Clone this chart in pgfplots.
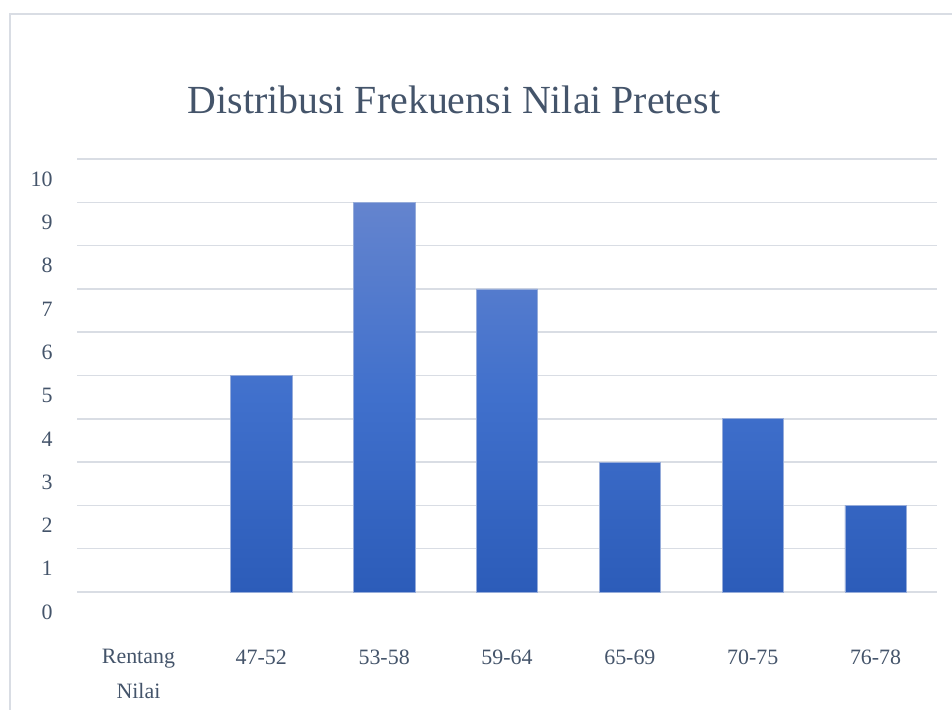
\documentclass[border=0pt]{standalone}
\usepackage{pgfplots}
\pgfplotsset{compat=1.18}
\usepackage{fontspec}
\setmainfont{Liberation Serif}
\definecolor{txt}{RGB}{68,84,106}
\definecolor{gridc}{RGB}{217,221,228}
\definecolor{bartop}{RGB}{100,132,206}
\definecolor{barmid}{RGB}{64,112,204}
\definecolor{barbot}{RGB}{44,92,185}
\definecolor{baredge}{RGB}{150,172,218}
\begin{document}
\begin{tikzpicture}[x=1bp,y=1bp]
\path[use as bounding box] (0,0) rectangle (952,710);
\draw[gridc, line width=2bp] (10,0) -- (10,696) -- (952,696);
\node[txt, font=\fontsize{40}{48}\selectfont] at (454,610) {Distribusi Frekuensi Nilai Pretest};
\begin{axis}[
  at={(77bp,118bp)}, anchor=south west,
  scale only axis, width=860bp, height=433bp,
  xmin=-0.5, xmax=6.5, ymin=0, ymax=10,
  axis line style={draw=none},
  major tick length=0pt,
  ytick={0,1,...,10},
  ymajorgrids, major grid style={gridc, line width=1.5bp},
  xtick={0,1,2,3,4,5,6},
  xticklabels={{Rentang\\Nilai},47-52,53-58,59-64,65-69,70-75,76-78},
  /pgf/number format/assume math mode=true,
  ticklabel style={font=\fontsize{22}{35}\selectfont, text=txt},
  yticklabel style={anchor=east, xshift=-21bp, yshift=-20bp},
  xticklabel style={align=center, anchor=north, yshift=-54bp},
  clip=false,
]
\addplot[ybar, bar width=0.5, draw=baredge, line width=0.6bp,
  top color=bartop, bottom color=barbot, middle color=barmid]
  coordinates {(1,5) (2,9) (3,7) (4,3) (5,4) (6,2)};
\end{axis}
\end{tikzpicture}
\end{document}
